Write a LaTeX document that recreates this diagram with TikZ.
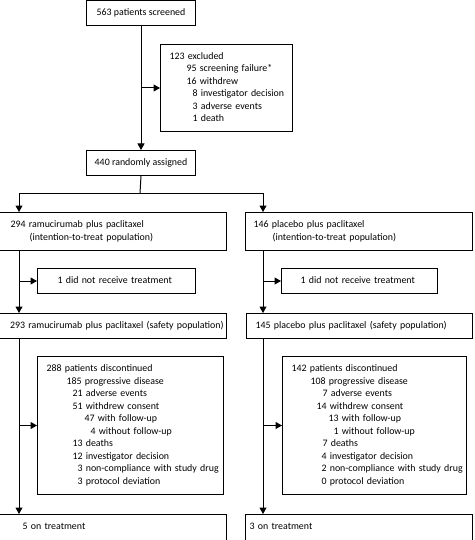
\documentclass[tikz,border=0pt]{standalone}
\usepackage{fontspec}
\setmainfont{Carlito}
\usetikzlibrary{arrows.meta}
\tikzset{
  box/.style={draw, line width=1pt, anchor=north west, align=left, inner ysep=0pt,
    font=\fontsize{9.9}{12.5}\selectfont},
  cbox/.style={draw, line width=1pt, anchor=north west, align=center, inner ysep=0pt,
    font=\fontsize{9.9}{12.5}\selectfont},
  ln/.style={line width=1pt},
  arr/.style={line width=1pt, -{Triangle[length=6.5pt,width=7pt]}},
}
\newcommand{\ind}[1]{\hspace*{#1pt}}
\begin{document}
\begin{tikzpicture}[x=1pt,y=-1pt]
\useasboundingbox (0,0) rectangle (474,540);
% boxes
\node[cbox, minimum width=109pt, minimum height=24.5pt] (screen) at (86,0.5) {563 patients screened};
\node[box, minimum height=87pt, inner xsep=9pt, text width=114pt] (excl) at (160,44)
  {\begin{tabular}{@{}l@{}}123 excluded\\ \ind{17}95 screening failure*\\ \ind{17}16 withdrew\\ \ind{23}8 investigator decision\\ \ind{23}3 adverse events\\ \ind{23}1 death\end{tabular}};
\node[cbox, minimum width=109pt, minimum height=25pt] (rand) at (86,150) {440 randomly assigned};
\node[box, minimum height=38pt, inner xsep=11pt, text width=205pt] (itt1) at (-1,212)
  {\begin{tabular}{@{}l@{}}294 ramucirumab plus paclitaxel\\ \ind{19}(intention-to-treat population)\end{tabular}};
\node[box, minimum height=38pt, inner xsep=8pt, text width=211pt] (itt2) at (245,212)
  {\begin{tabular}{@{}l@{}}146 placebo plus paclitaxel\\ \ind{19}(intention-to-treat population)\end{tabular}};
\node[box, minimum height=25pt, inner xsep=20pt, text width=118pt] (nr1) at (37,268)
  {\begin{tabular}{@{}l@{}}1 did not receive treatment\end{tabular}};
\node[box, minimum height=25pt, inner xsep=19pt, text width=118pt] (nr2) at (281,268)
  {\begin{tabular}{@{}l@{}}1 did not receive treatment\end{tabular}};
\node[box, minimum height=25pt, inner xsep=10.5pt, text width=206pt] (saf1) at (-1,313)
  {\begin{tabular}{@{}l@{}}293 ramucirumab plus paclitaxel (safety population)\end{tabular}};
\node[box, minimum height=25pt, inner xsep=9pt, text width=208pt] (saf2) at (246,313)
  {\begin{tabular}{@{}l@{}}145 placebo plus paclitaxel (safety population)\end{tabular}};
\node[box, minimum height=138pt, inner xsep=9pt, text width=168pt] (disc1) at (37,356)
  {\begin{tabular}{@{}l@{}}288 patients discontinued\\ \ind{20}185 progressive disease\\ \ind{26}21 adverse events\\ \ind{26}51 withdrew consent\\ \ind{38}47 with follow-up\\ \ind{44}4 without follow-up\\ \ind{26}13 deaths\\ \ind{26}12 investigator decision\\ \ind{31}3 non-compliance with study drug\\ \ind{31}3 protocol deviation\end{tabular}};
\node[box, minimum height=138pt, inner xsep=9pt, text width=166pt] (disc2) at (282,356)
  {\begin{tabular}{@{}l@{}}142 patients discontinued\\ \ind{19}108 progressive disease\\ \ind{31}7 adverse events\\ \ind{25}14 withdrew consent\\ \ind{37}13 with follow-up\\ \ind{42}1 without follow-up\\ \ind{31}7 deaths\\ \ind{30}4 investigator decision\\ \ind{30}2 non-compliance with study drug\\ \ind{30}0 protocol deviation\end{tabular}};
\node[box, minimum height=25.5pt, inner xsep=23pt, text width=181pt] (bot1) at (-1,514)
  {\begin{tabular}{@{}l@{}}5 on treatment\end{tabular}};
\node[box, minimum height=25.5pt, inner xsep=4pt, text width=219pt] (bot2) at (245,514)
  {\begin{tabular}{@{}l@{}}3 on treatment\end{tabular}};
% trunk coordinates
\coordinate (lx) at (19,0);
\coordinate (rx) at (263,0);
\coordinate (split) at (140,193);
% connectors
\draw[arr] (screen.south) -- (rand.north);
\draw[arr] (screen.south |- excl.west) -- (excl.west);
\draw[ln] (rand.south) -- (split);
\draw[arr] (split) -| (lx |- itt1.north);
\draw[arr] (split) -| (rx |- itt2.north);
\draw[arr] (lx |- itt1.south) -- (lx |- saf1.north);
\draw[arr] (lx |- nr1.west) -- (nr1.west);
\draw[arr] (rx |- itt2.south) -- (rx |- saf2.north);
\draw[arr] (rx |- nr2.west) -- (nr2.west);
\draw[arr] (lx |- saf1.south) -- (lx |- bot1.north);
\draw[arr] (lx |- disc1.west) -- (disc1.west);
\draw[arr] (rx |- saf2.south) -- (rx |- bot2.north);
\draw[arr] (rx |- disc2.west) -- (disc2.west);
\end{tikzpicture}
\end{document}
